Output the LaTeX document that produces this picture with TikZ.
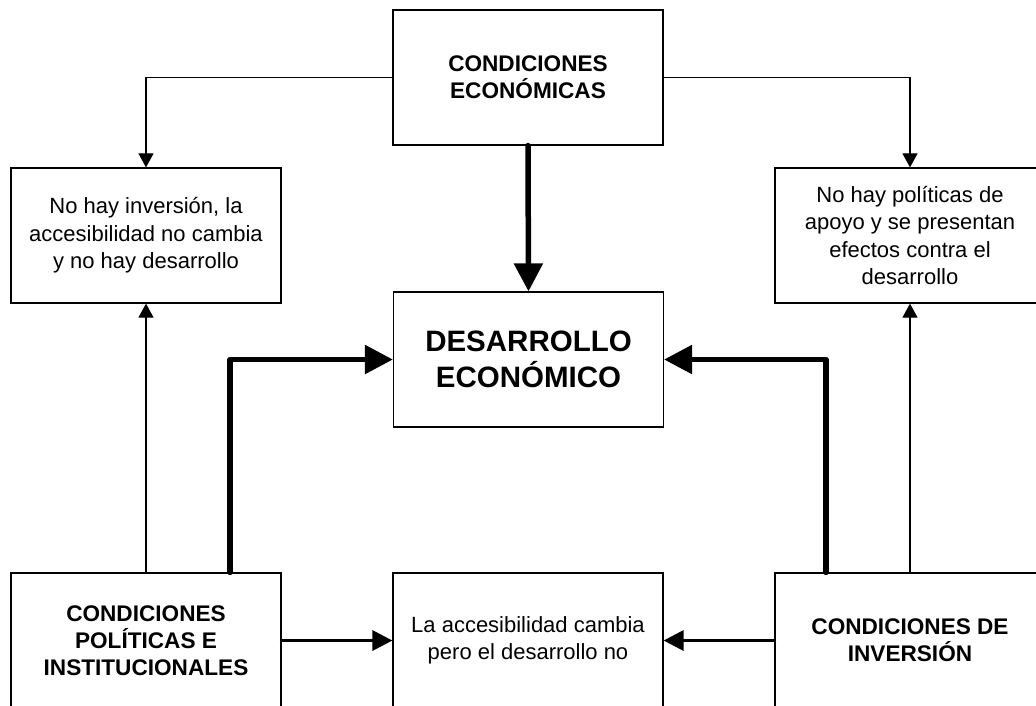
\documentclass[tikz,border=0pt]{standalone}
\usepackage{fontspec}
\setmainfont{Liberation Sans}
\usetikzlibrary{arrows.meta}
\tikzset{
  box/.style={draw=black, line width=1.2pt, rectangle, minimum width=270pt, minimum height=135pt, inner sep=0pt, align=center, fill=white},
  txt/.style={font=\fontsize{22}{27.5}\selectfont},
  btxt/.style={font=\fontsize{22.6}{27}\selectfont\bfseries},
  bigtxt/.style={font=\fontsize{29.5}{36.5}\selectfont\bfseries},
  thinarrow/.style={line width=1.1pt, -{Triangle[length=14pt,width=15pt]}},
  midarrow/.style={line width=3.3pt, line cap=round, -{Triangle[length=20pt,width=20pt]}},
  thickarrow/.style={line width=5.5pt, line cap=round, line join=round, -{Triangle[length=28pt,width=28pt]}}
}
\begin{document}
\begin{tikzpicture}[x=1pt,y=-1pt]
\useasboundingbox (0,0) rectangle (1036,705);
\clip (0,0) rectangle (1036,705);
\fill[white] (0,0) rectangle (1036,705);
\node[box, btxt] (econ) at (528,77.5) {CONDICIONES\\ECONÓMICAS};
\node[box, txt] (left) at (146,235.5) {No hay inversión, la\\accesibilidad no cambia\\y no hay desarrollo};
\node[box, txt] (right) at (910,235.5) {No hay políticas de\\apoyo y se presentan\\efectos contra el\\desarrollo};
\node[box, bigtxt] (des) at (528.5,359.5) {DESARROLLO\\ECONÓMICO};
\node[box, btxt] (pol) at (146,640.5) {CONDICIONES\\POLÍTICAS E\\INSTITUCIONALES};
\node[box, txt] (acc) at (528,640.5) {La accesibilidad cambia\\pero el desarrollo no};
\node[box, btxt] (inv) at (910,640.5) {CONDICIONES DE\\INVERSIÓN};
\coordinate (polup) at ([xshift=84pt]pol.north);
\coordinate (invup) at ([xshift=-84pt]inv.north);
\draw[thinarrow] (econ.west) -| (left.north);
\draw[thinarrow] (econ.east) -| (right.north);
\draw[thinarrow] (pol.north) -- (left.south);
\draw[thinarrow] (inv.north) -- (right.south);
\draw[thickarrow] (econ.south) -- (des.north);
\draw[thickarrow] (polup) |- (des.west);
\draw[thickarrow] (invup) |- (des.east);
\draw[midarrow] (pol.east) -- (acc.west);
\draw[midarrow] (inv.west) -- (acc.east);
\end{tikzpicture}
\end{document}
